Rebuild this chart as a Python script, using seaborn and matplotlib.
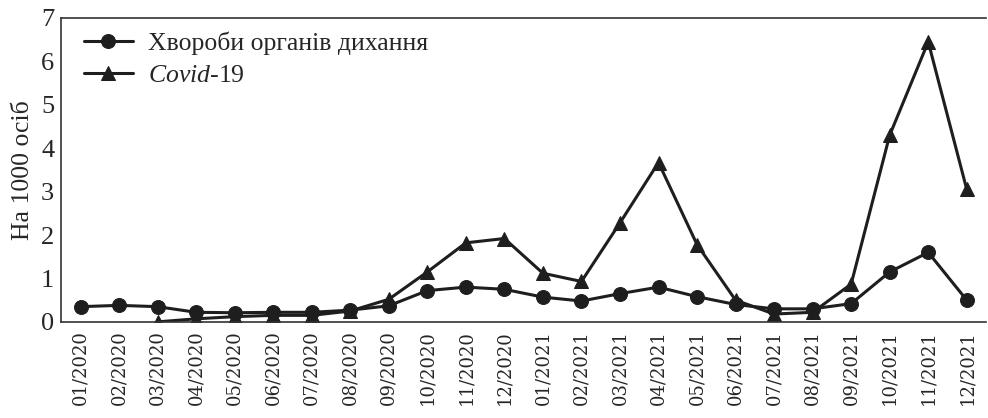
import matplotlib
matplotlib.use("Agg")
import matplotlib.pyplot as plt
import seaborn as sns
import numpy as np
import pandas as pd
from matplotlib.ticker import FixedLocator

months = ["01/2020", "02/2020", "03/2020", "04/2020", "05/2020", "06/2020",
          "07/2020", "08/2020", "09/2020", "10/2020", "11/2020", "12/2020",
          "01/2021", "02/2021", "03/2021", "04/2021", "05/2021", "06/2021",
          "07/2021", "08/2021", "09/2021", "10/2021", "11/2021", "12/2021"]
resp = [0.35, 0.38, 0.35, 0.22, 0.21, 0.22, 0.22, 0.27, 0.37, 0.72, 0.80, 0.75,
        0.57, 0.48, 0.65, 0.80, 0.58, 0.40, 0.30, 0.30, 0.42, 1.15, 1.60, 0.50]
covid = [np.nan, np.nan, 0.00, 0.07, 0.12, 0.15, 0.15, 0.25, 0.52, 1.15, 1.82, 1.92,
         1.12, 0.93, 2.28, 3.67, 1.78, 0.50, 0.18, 0.22, 0.87, 4.30, 6.45, 3.05]
label_resp = "Хвороби органів дихання"
label_covid = "$\\it{Covid}$-19"

sns.set_style("white")
plt.rcParams['font.family'] = ['Liberation Serif', 'DejaVu Serif']
plt.rcParams['mathtext.fontset'] = 'custom'
plt.rcParams['mathtext.it'] = 'Liberation Serif:italic'
plt.rcParams['mathtext.rm'] = 'Liberation Serif'

fig = plt.figure(figsize=(9.88, 4.18), dpi=100)
ax = fig.add_axes([0.062, 0.230, 0.936, 0.727])

x = np.arange(len(months))
df = pd.DataFrame({"x": x, "resp": resp, "covid": covid})
col = "#1e1e1e"
sns.lineplot(data=df, x="x", y="resp", ax=ax, color=col, lw=2.2, marker="o",
             markersize=10, markeredgecolor=col, label=label_resp)
sns.lineplot(data=df.dropna(), x="x", y="covid", ax=ax, color=col, lw=2.2, marker="^",
             markersize=10.5, markeredgecolor=col, label=label_covid)

ax.set_xlim(-0.5, 23.5)
ax.set_ylim(0, 7)
ax.set_xticks(x)
ax.set_xticklabels(months, rotation=90, fontsize=13, family='DejaVu Serif')
ax.xaxis.set_minor_locator(FixedLocator(np.arange(0.5, 23.5, 1)))
ax.tick_params(axis='x', which='major', length=0, pad=6)
ax.tick_params(axis='x', which='minor', length=6, direction='in', width=1.2, color=col)
ax.set_yticks(range(8))
ax.tick_params(axis='y', length=0, labelsize=19, pad=5)
ax.set_xlabel("")
ax.set_ylabel("На 1000 осіб", fontsize=18.5, labelpad=5)
for s in ax.spines.values():
    s.set_color("#333333")
    s.set_linewidth(1.2)
ax.spines['right'].set_visible(False)

leg = ax.legend(loc="upper left", frameon=False, fontsize=18.5, handlelength=1.9,
                handletextpad=0.6, borderaxespad=0.2, labelspacing=0.35,
                bbox_to_anchor=(0.008, 1.005))
plt.savefig("out.png", dpi=100)
